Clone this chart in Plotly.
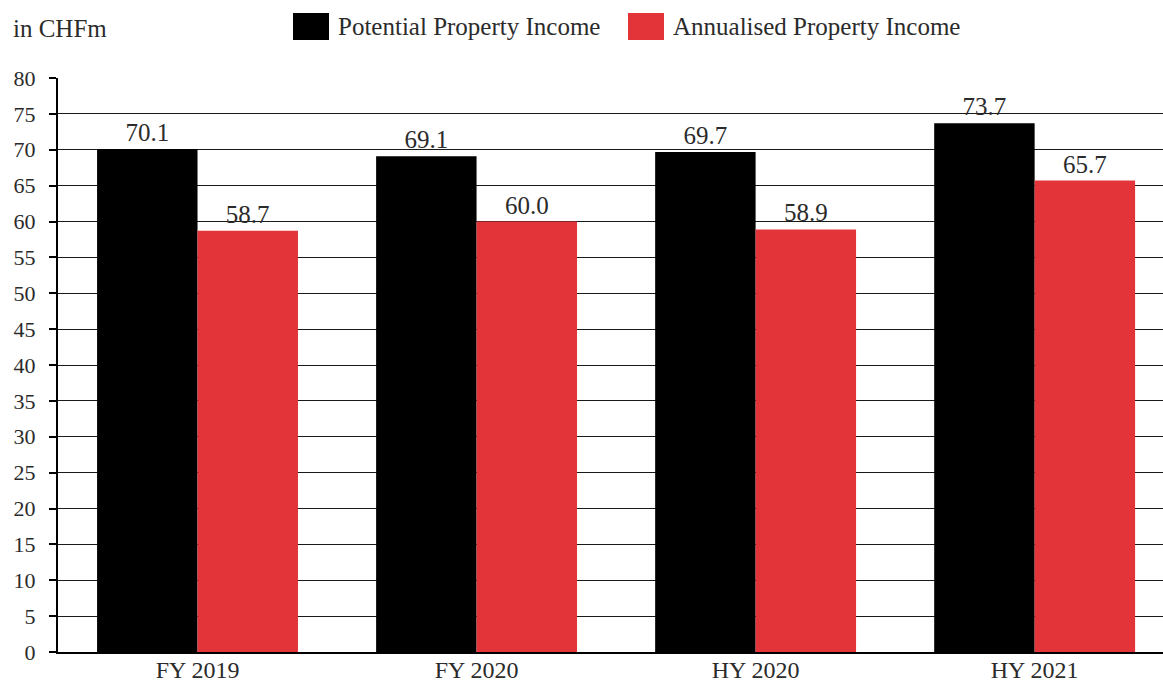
import plotly.graph_objects as go

categories = ["FY 2019", "FY 2020", "HY 2020", "HY 2021"]
potential = [70.1, 69.1, 69.7, 73.7]
annualised = [58.7, 60.0, 58.9, 65.7]
series_names = ["Potential Property Income", "Annualised Property Income"]
colors = ["#000000", "#E3343A"]
y_ticks = list(range(0, 81, 5))

FONT = "Liberation Serif"
TXT = "#2b2b2b"

fig = go.Figure()
for name, vals, col in zip(series_names, [potential, annualised], colors):
    fig.add_trace(go.Bar(
        x=categories, y=vals, name=name, marker=dict(color=col, line=dict(width=0)),
        text=[f"{v:.1f}" for v in vals], textposition="outside",
        textfont=dict(family=FONT, size=25, color=TXT),
        cliponaxis=False, showlegend=False,
    ))

fig.update_layout(
    width=1163, height=683,
    margin=dict(l=58, r=0, t=78, b=31),
    paper_bgcolor="white", plot_bgcolor="white",
    barmode="group", bargap=0.28, bargroupgap=0,
    font=dict(family=FONT, size=25, color=TXT),
    uniformtext=dict(mode=False),
)
fig.update_xaxes(
    range=[-0.5, 3.46], showgrid=False, showline=True, linecolor="black", linewidth=2,
    ticks="", tickfont=dict(family=FONT, size=24, color=TXT), ticklabelstandoff=-5,
    automargin=False,
)
fig.update_yaxes(
    range=[0, 80], tickvals=y_ticks, showgrid=True, gridcolor="#1a1a1a", gridwidth=1.3,
    showline=True, linecolor="black", linewidth=2, ticks="outside", ticklen=7,
    tickcolor="black", tickwidth=1.5, zeroline=False, ticklabelstandoff=9,
    tickfont=dict(family=FONT, size=22, color=TXT), automargin=False,
)

# Unit label
fig.add_annotation(text="in CHFm", xref="paper", yref="paper", x=-47/1105, y=1 + 50/574,
                   xanchor="left", yanchor="middle", showarrow=False,
                   font=dict(family=FONT, size=25, color=TXT))

# Custom legend (large square swatches)
legend_items = [(293, series_names[0], colors[0]), (628, series_names[1], colors[1])]
for px, name, col in legend_items:
    x0 = (px - 58) / 1105
    x1 = (px + 36 - 58) / 1105
    y0 = 1 + (78 - 40) / 574
    y1 = 1 + (78 - 13) / 574
    fig.add_shape(type="rect", xref="paper", yref="paper", x0=x0, x1=x1, y0=y0, y1=y1,
                  fillcolor=col, line=dict(width=0))
    fig.add_annotation(text=name, xref="paper", yref="paper", x=(px + 43 - 58) / 1105,
                       y=1 + (78 - 27) / 574, xanchor="left", yanchor="middle",
                       showarrow=False, font=dict(family=FONT, size=25, color=TXT))

fig.write_html("out.html", config={"displayModeBar": False},
               post_script="document.body.style.margin='0';document.body.style.overflow='hidden';")
